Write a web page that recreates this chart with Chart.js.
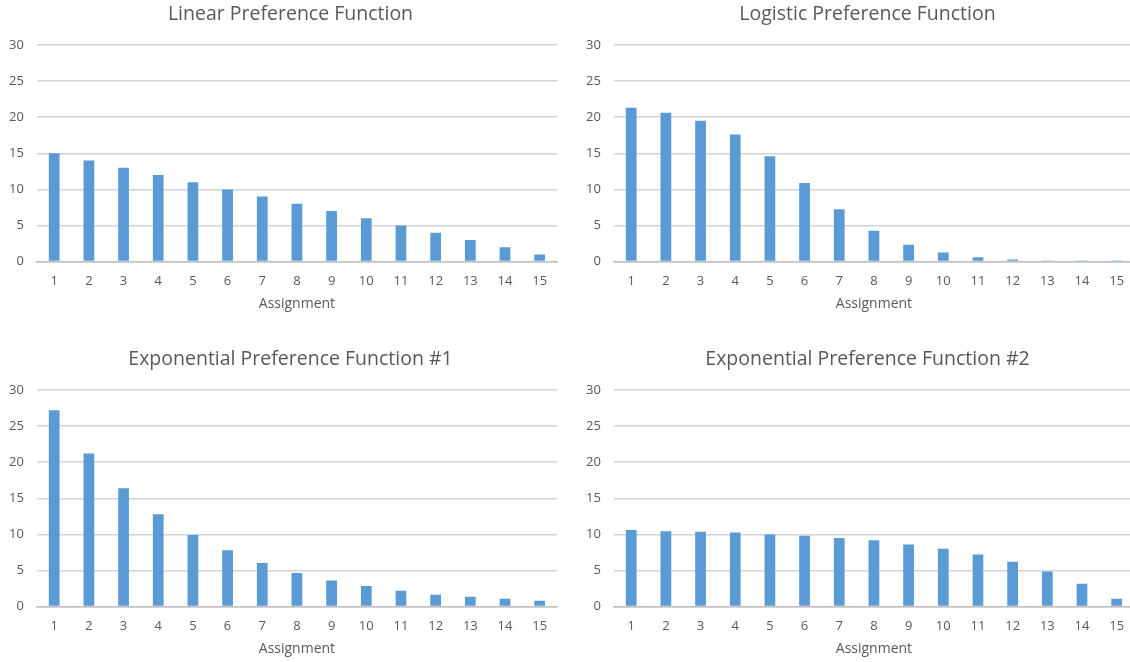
<!DOCTYPE html>
<html>
<head>
<meta charset="utf-8">
<script src="https://cdn.jsdelivr.net/npm/chart.js@4"></script>
<style>
  html, body { margin: 0; padding: 0; background: #fff; overflow: hidden; width: 1130px; height: 662px; }
  .box { position: absolute; width: 598px; height: 318px; }
</style>
</head>
<body>
<div class="box" style="left:-13px;top:0"><canvas id="linChart"></canvas></div>
<div class="box" style="left:564px;top:0"><canvas id="logChart"></canvas></div>
<div class="box" style="left:-13px;top:345px"><canvas id="exp1Chart"></canvas></div>
<div class="box" style="left:564px;top:345px"><canvas id="exp2Chart"></canvas></div>
<script>
const assignments = ['1','2','3','4','5','6','7','8','9','10','11','12','13','14','15'];
const linearValues = [15, 14, 13, 12, 11, 10, 9, 8, 7, 6, 5, 4, 3, 2, 1];
const logisticValues = [21.3, 20.6, 19.5, 17.6, 14.6, 10.9, 7.25, 4.27, 2.32, 1.25, 0.6, 0.28, 0.15, 0.05, 0.02];
const exp1Values = [27.2, 21.2, 16.4, 12.8, 9.9, 7.8, 6.05, 4.65, 3.6, 2.85, 2.2, 1.65, 1.35, 1.07, 0.8];
const exp2Values = [10.6, 10.45, 10.35, 10.25, 10.0, 9.8, 9.5, 9.2, 8.6, 8.0, 7.2, 6.2, 4.85, 3.15, 1.07];

const textColor = '#595959';
const fontFamily = '"Open Sans", Lato, sans-serif';

function makeChart(id, title, values) {
  const ctx = document.getElementById(id).getContext('2d');
  return new Chart(ctx, {
    type: 'bar',
    data: {
      labels: assignments,
      datasets: [{
        data: values,
        backgroundColor: '#5b9bd5',
        borderWidth: 0,
        barPercentage: 0.31,
        categoryPercentage: 1
      }]
    },
    options: {
      responsive: true,
      maintainAspectRatio: false,
      animation: false,
      layout: { padding: { left: 9, right: 0, top: 0, bottom: 0 } },
      plugins: {
        legend: { display: false },
        tooltip: { enabled: false },
        title: {
          display: true,
          text: title,
          color: textColor,
          font: { family: fontFamily, size: 19.5, weight: 'normal' },
          padding: { top: 2.3, bottom: 19.3 }
        }
      },
      scales: {
        x: {
          grid: { display: false, drawTicks: false },
          border: { display: true, color: '#bfbfbf', width: 1.5 },
          ticks: { color: textColor, font: { family: fontFamily, size: 13 }, padding: 12, maxRotation: 0 },
          title: {
            display: true,
            text: 'Assignment',
            color: textColor,
            font: { family: fontFamily, size: 14 },
            padding: { top: -6, bottom: 6 }
          }
        },
        y: {
          min: 0,
          max: 30,
          ticks: { stepSize: 5, color: textColor, font: { family: fontFamily, size: 13 }, padding: 13 },
          grid: { color: '#d4d4d4', lineWidth: 1.5, drawTicks: false },
          border: { display: false }
        },
        // empty right-hand spacer so the title sits where the reference has it
        spacer: {
          type: 'linear',
          position: 'right',
          ticks: { display: false },
          grid: { display: false, drawTicks: false },
          border: { display: false },
          afterFit: scale => { scale.width = 28; }
        }
      }
    }
  });
}

makeChart('linChart', 'Linear Preference Function', linearValues);
makeChart('logChart', 'Logistic Preference Function', logisticValues);
makeChart('exp1Chart', 'Exponential Preference Function #1', exp1Values);
makeChart('exp2Chart', 'Exponential Preference Function #2', exp2Values);
</script>
</body>
</html>
